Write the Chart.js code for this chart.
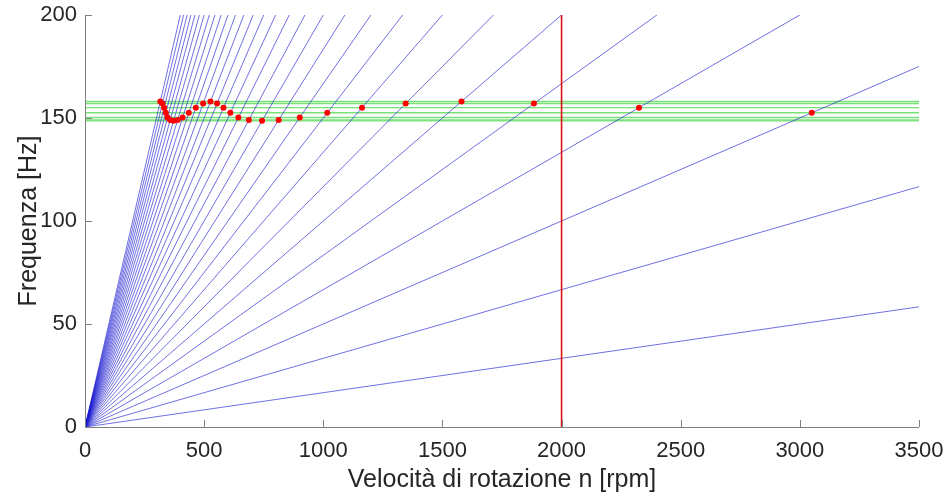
<!DOCTYPE html>
<html lang="it">
  <head>
    <meta charset="UTF-8" />
    <title>Diagramma di Campbell</title>
    <script src="https://cdn.jsdelivr.net/npm/chart.js@4/dist/chart.umd.min.js"></script>
    <style>
      body {
        margin: 0;
        background: #ffffff;
      }
      #wrap {
        position: relative;
        width: 949px;
        height: 497px;
      }
    </style>
  </head>
  <body>
    <div id="wrap">
      <canvas id="campbell"></canvas>
    </div>

    <script>
      // engine orders: each one is the line f = k * n / 60
      const engineOrders = [
        1, 2, 3, 4, 5, 6, 7, 8, 9, 10, 11, 12, 13, 14, 15,
        16, 17, 18, 19, 20, 21, 22, 23, 24, 25, 26, 27, 28, 29, 30
      ];

      // natural frequencies of the modes [Hz]
      const modeFreqs = [158, 157, 155, 152.5, 150.2, 149, 148.6];

      // resonance points (order line crossing a mode)
      const resonanceOrders = [
        3, 4, 5, 6, 7, 8, 9, 10, 11, 12, 13, 14, 15, 16,
        17, 18, 19, 20, 21, 22, 23, 24, 25, 26, 27, 28, 29, 30
      ];
      const resonanceRpm = [
        3050, 2325, 1884, 1580, 1345.7, 1162.5, 1016.7, 901.2, 812.7, 743,
        687.7, 643.7, 610, 581.3, 554.1, 526.7, 495.8, 465, 435.7, 409.6,
        388.7, 371.5, 357.6, 346.6, 338.9, 332.1, 324.8, 316
      ];
      const resonanceHz = [
        152.5, 155, 157, 158, 157, 155, 152.5, 150.2, 149, 148.6,
        149, 150.2, 152.5, 155, 157, 158, 157, 155, 152.5, 150.2,
        149, 148.6, 149, 150.2, 152.5, 155, 157, 158
      ];

      const operatingRpm = 2000;

      const rpmTicks = [0, 500, 1000, 1500, 2000, 2500, 3000, 3500];
      const hzTicks = [0, 50, 100, 150, 200];

      const rpmMax = 3500;
      const hzMax = 200;

      const FONT = "'Liberation Sans', Arial, sans-serif";
      const TEXT = "#262626";

      const datasets = [];

      modeFreqs.forEach((f) => {
        datasets.push({
          data: [
            { x: 0, y: f },
            { x: rpmMax, y: f }
          ],
          showLine: true,
          borderColor: "rgb(120, 225, 120)",
          borderWidth: 1.4,
          pointRadius: 0,
          order: 4
        });
      });

      engineOrders.forEach((k) => {
        datasets.push({
          data: [
            { x: 0, y: 0 },
            { x: rpmMax, y: (k * rpmMax) / 60 }
          ],
          showLine: true,
          borderColor: "rgba(30, 30, 210, 0.85)",
          borderWidth: 0.75,
          pointRadius: 0,
          order: 3
        });
      });

      datasets.push({
        data: [
          { x: operatingRpm, y: 0 },
          { x: operatingRpm, y: hzMax }
        ],
        showLine: true,
        borderColor: "#dd1111",
        borderWidth: 1.6,
        pointRadius: 0,
        order: 2
      });

      datasets.push({
        data: resonanceRpm.map((n, i) => ({ x: n, y: resonanceHz[i] })),
        showLine: false,
        pointRadius: 3,
        pointBorderWidth: 0,
        pointBackgroundColor: "#ff0000",
        order: 1
      });

      // axis lines with inward ticks, Matlab style (no box)
      const axesPlugin = {
        id: "axesPlugin",
        afterDatasetsDraw(chart) {
          const { ctx, chartArea, scales } = chart;
          const { left, right, top, bottom } = chartArea;
          ctx.save();
          ctx.strokeStyle = "#808080";
          ctx.lineWidth = 1;
          ctx.beginPath();
          ctx.moveTo(left, bottom + 0.5);
          ctx.lineTo(right, bottom + 0.5);
          ctx.moveTo(left + 0.5, bottom);
          ctx.lineTo(left + 0.5, top);
          rpmTicks.forEach((v) => {
            const px = Math.round(scales.x.getPixelForValue(v)) + 0.5;
            ctx.moveTo(px, bottom);
            ctx.lineTo(px, bottom - 7);
          });
          hzTicks.forEach((v) => {
            const py = Math.round(scales.y.getPixelForValue(v)) + 0.5;
            ctx.moveTo(left, py);
            ctx.lineTo(left + 7, py);
          });
          ctx.stroke();
          ctx.restore();
        }
      };

      const ctx = document.getElementById("campbell").getContext("2d");
      new Chart(ctx, {
        type: "scatter",
        data: { datasets },
        plugins: [axesPlugin],
        options: {
          responsive: true,
          maintainAspectRatio: false,
          animation: false,
          events: [],
          layout: {
            padding: { top: 0, right: 30, left: 0, bottom: 0 }
          },
          plugins: {
            legend: { display: false },
            tooltip: { enabled: false }
          },
          scales: {
            x: {
              type: "linear",
              min: 0,
              max: rpmMax,
              afterBuildTicks: (scale) => {
                scale.ticks = rpmTicks.map((v) => ({ value: v }));
              },
              afterFit: (scale) => {
                scale.height = 70;
              },
              grid: { display: false },
              border: { display: false },
              ticks: {
                color: TEXT,
                font: { family: FONT, size: 22 },
                padding: 3,
                maxRotation: 0,
                callback: (v) => String(v)
              },
              title: {
                display: true,
                text: "Velocità di rotazione n [rpm]",
                color: TEXT,
                font: { family: FONT, size: 25 },
                padding: { top: 0, bottom: 2 }
              }
            },
            y: {
              type: "linear",
              min: 0,
              max: hzMax,
              afterBuildTicks: (scale) => {
                scale.ticks = hzTicks.map((v) => ({ value: v }));
              },
              afterFit: (scale) => {
                scale.width = 85;
              },
              grid: { display: false },
              border: { display: false },
              ticks: {
                color: TEXT,
                font: { family: FONT, size: 22, lineHeight: 1.36 },
                padding: 0,
                callback: (v) => String(v)
              },
              title: {
                display: true,
                text: "Frequenza [Hz]",
                color: TEXT,
                font: { family: FONT, size: 25 },
                padding: { top: 14, bottom: 0 }
              }
            }
          }
        }
      });
    </script>
  </body>
</html>
